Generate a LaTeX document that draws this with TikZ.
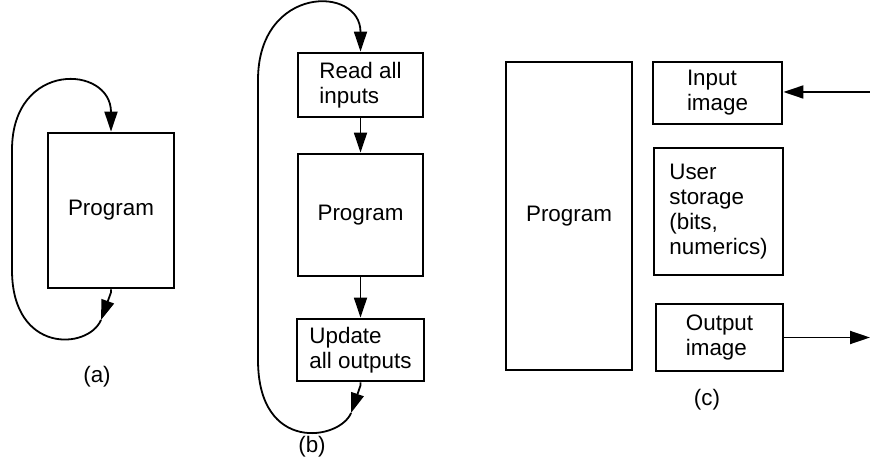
\documentclass[tikz,border=0pt]{standalone}
\usepackage{fontspec}
\setmainfont{Liberation Sans}
\usetikzlibrary{arrows.meta}
\begin{document}
\begin{tikzpicture}[x=0.5pt,y=-0.5pt,
  box/.style={draw, line width=1.4pt, align=left, inner sep=0pt,
    font=\fontsize{11.2}{12.6}\selectfont},
  conn/.style={line width=0.9pt, -{Triangle[length=10pt,width=6.5pt]}},
  captext/.style={font=\fontsize{11.2}{12.6}\selectfont}
]
\useasboundingbox (0,0) rectangle (870,458);

% (a)
\node[box, minimum width=63pt, minimum height=77.5pt] (a) at (111,210.5) {Program};
\coordinate (pa) at (101,320);
\draw[conn] (a.south) -- ++(0,3) -- (pa);
\draw[conn] (pa) .. controls (88,350) and (12,354) .. (12,270)
  -- (12,150) .. controls (12,60) and (111,65) .. (a.north);
\node[captext] (la) at (97,377) {(a)};

% (b)
\node[box, minimum width=62.5pt, minimum height=32pt] (b1) at (360.5,85) {Read all\\inputs};
\node[box, minimum width=62.5pt, minimum height=61pt] (b2) at (360.5,215) {Program};
\node[box, minimum width=63.5pt, minimum height=31pt] (b3) at (360.5,350) {Update\\all outputs};
\draw[conn] (b1) -- (b2);
\draw[conn] (b2) -- (b3);
\coordinate (pb) at (351,413);
\draw[conn] (b3.south) -- ++(0,3) -- (pb);
\draw[conn] (pb) .. controls (340,440) and (258,454) .. (258,360)
  -- (258,80) .. controls (258,-15) and (360.5,-15) .. (b1.north);
\node[captext] (lb) at (312,447) {(b)};

% (c)
\node[box, minimum width=63pt, minimum height=154pt] (c1) at (569,216) {Program};
\node[box, minimum width=64.5pt, minimum height=31pt] (c2) at (717.5,93) {Input\\image};
\node[box, minimum width=64.5pt, minimum height=63.5pt] (c3) at (718.5,211.5) {User\\storage\\(bits,\\numerics)};
\node[box, minimum width=63.5pt, minimum height=33.5pt] (c4) at (719.5,337.5) {Output\\image};
\coordinate (cin) at (870,92);
\coordinate (cout) at (870,337.5);
\draw[conn] (cin) -- (c2.east |- cin);
\draw[conn] (c4.east) -- (cout);
\node[captext] (lc) at (707,400) {(c)};
\end{tikzpicture}
\end{document}
